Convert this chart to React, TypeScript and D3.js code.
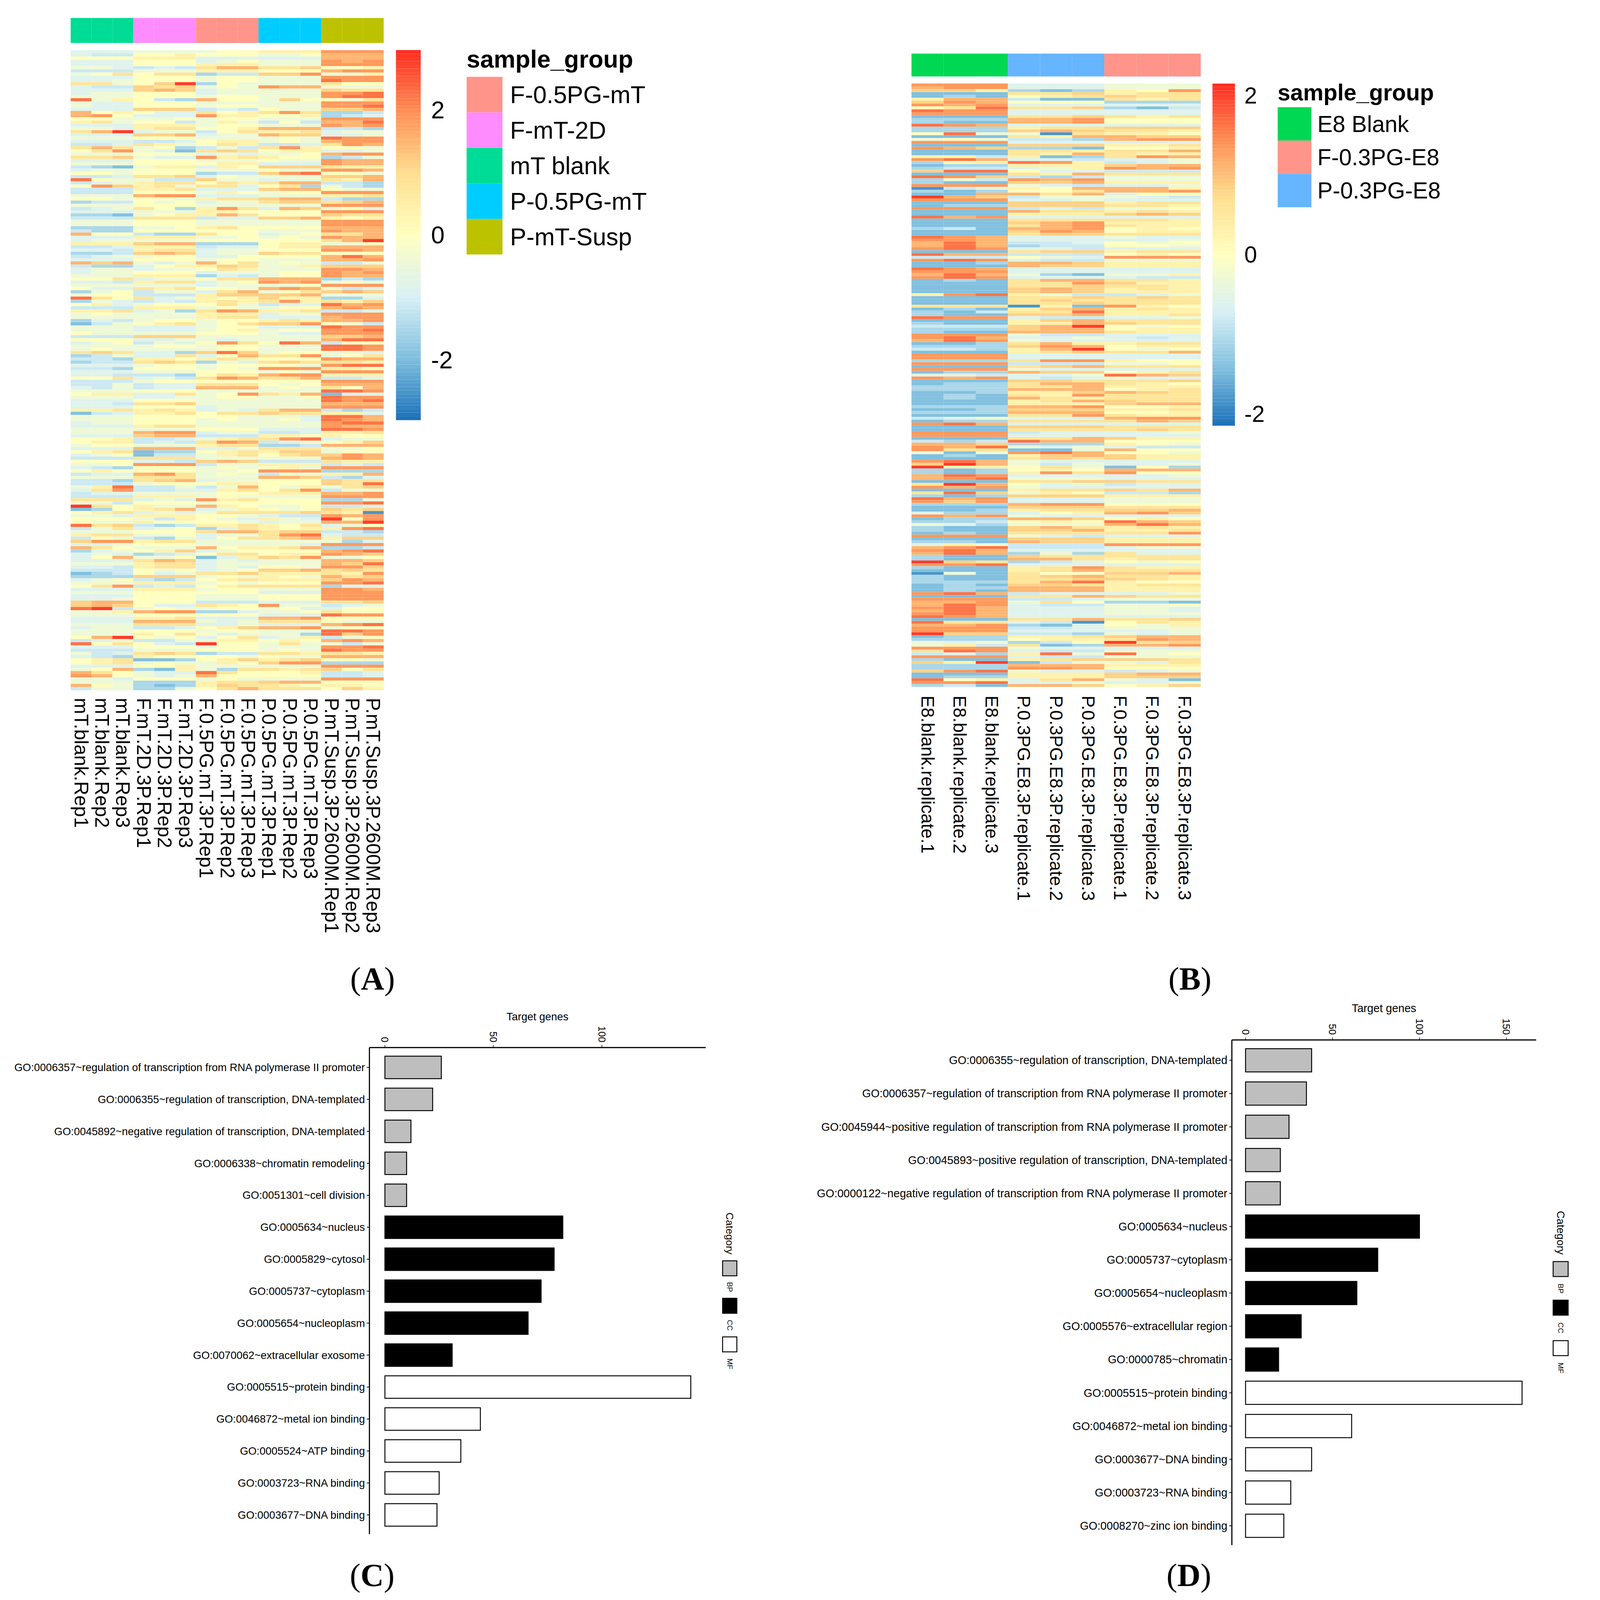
import React from "react";
import * as d3 from "d3";

// ---------- heatmap values (one letter per cell, see levelValues) ----------
const levelValues: Record<string, number> = {
  a: -2.5, b: -1.95, c: -1.5, d: -1.12, e: -0.82, f: -0.42, g: 0.0,
  h: 0.4, i: 0.8, j: 1.15, k: 1.5, l: 1.85, m: 2.25, n: 2.8,
};

const rowsA = [
"eee fff fgg hhh lll","edd ggh ggg ffg kkk","ggg hhh eee eee kkk","eee ggg efg fff lkl","eee ggg hhh fff lll",
"ffe ded ikk iij ggh","ddd fff hhh ggg kll","fgi gii cdd jjl ffh","eee ggg fgg fff lll","eef ggg fgg fff mll",
"iif gjn cgf fff igg","edd jij fgf lkk fff","eee jkj eff fff jii","eff ggg eff fff llm","fff ggg fgg fff lmm",
"mfh gdc kgg fjg gfi","fee ggg fff fff lll","fee ggg fgg fff llm","eee jjj ded gff jjk","kgh gee igh ili ccd",
"klg eee lhh ggh cde","ggf ffg fgg fff lll","hif ggd fhf dgd kkm","eee hhh fgg fff lkl","ffe hii ggh kkk ddc",
"ikn eff dgi hhi eff","eee jjk eff kjj eef","fff ggg fff fgf mll","eee dde ghh fgf kll","dde ihf gih dde ilk",
"iki fgc dfd ilh ggf","gil feb iji ghh eef","fff ggg efe ffg kll","iij fee lhi hgg cdf","eee ggg fff gff lkk",
"fff ggg ghh eee lkk","dcb fhh ehg jjj ihh","eff ggg fff gff llk","ggf ggg cdd jlm ggf","dde iij egf fff jjk",
"mgf fdd jff eff ihk","def hii gih ikk ddc","glj hif iie gic fdc","ddd hhi eee jkk gff","ddd ggg fhg fgg lll",
"fff kll eee fff hhi","ggf ggf hii jkk dcc","cdd gfg eff ijj ijk","fff ggg fff fff lll","def igc hli ekj fge",
"eee fff hhg ggg lll","ccb fgh hki ggg jii","ddd iii dee jjk hgh","fff ggg fff fff lll","fff ggg fff fff lll",
"ccc ffg hig ggg kkk","dcc ggg ggg fff lkk","kgg dcc igg efg iik","eee hhh ffg fgf lkk","eff fff ggg ggg ikn",
"hhh jkk ccc ghh ffg","dde hhh dee ghh kkk","eed hii eff ggg llk","ccd jkj eff jii ggg","def fgg eeg ggg kmk",
"eee ggg fgg fff kkl","kjk fef kgi fgf ddf","dcc egh hji ffh jjj","eff eff gih fff llk","eff ggg eff fgg lkl",
"fff hhh ced fgg lkk","ggi eff gii kkk cdc","eed hii efg lkl fgf","fff fff eff ffg lll","gee ihi ggf klk fde",
"cfg dff eik fgi jkj","fgg ddd hjj jjk fff","mig ief hgh jhh cce","cfe ded hih ilh ihj","ghe fgg gif dee mkl",
"ddd hhh fgf fgg klk","hhi efc ilk hhi dde","fgf fff hhh eff lll","fff fff hii eee kll","ced fgg fgg hih kkl",
"bdf ghi fgi jjl gfd","fff eee fgg eee mll","fff eee fgh fgg llm","gff fff ggg fee lll","ddd jjj fff fff jjk",
"ggg eef fef fff kmm","efg dfe gli gmk dgg","fff fgg fgg fff mml","fgf fff fgg fff mml","iji eec jmj fgg ffe",
"cdf eei egk iil fgi","ddc hhg hih ggg lkk","cdd iji cfe iji iih","eee fgg fgg ggf lmm","ddc ggg fgf lll hhg",
"eee fff ggg fgf lll","eed ddc gih kll hhh","ggi efd ilk iik dde","ddd fgg ggg ggg lll","ddf dee iii gfg kkk",
"edf dee kkk fgf igk","fff ggg fff fff mml","ghh eei fgl ihk bee","fff eef fgg ffg mll","eee ggg fff fff mlm",
"eed iij fff fff kkk","eee ggg eff fff lll","hhi hih efe ikk dcd","bde hhi gii jii hhe","fff ggg ggf ffe mmk",
"fff ggg fgf fge mlk","eff ggg fff fff lmm","eee hii fff fff lkk","fff fff ggg eee mml","fff kll eff dde hhi",
"eee jkk ddd hhg hgg","ggh dde fhi ilm eff","ghh ded ilk def ghj","fgg fff hii ccd kkk","eee kkk eef iii ffg",
"ghi bcc ghi hjj fgg","efg bdd fhi gij jlk","ddd iii fff fff klk","ggg eed jkj ddd ihh","ffg lll dff hhh ded",
"edc ggg fgf ghf lll","ghg ggg ffg lll ccc","dee kli fgf dff hhk","fff iii fff kkj dce","ddc ijk eff ggg jii",
"ddd fgg ghh ggg jim","fhm ddf dfk gfh fij","eil dde ehi gil dff","dee fff fgg hhh kkl","ddd hhh fgf fff lll",
"iii efe lhi ggg ccf","ffd ggg fgg ggg llm","nig hff khg ffg dde","bcg hik efh gfg jij","ghi efe fii iij iha",
"ffe hhh ggf edd lkl","ggg fdh gfe hfe ngl","gff hgg ggf eff kkn","mij dcd hhi hgi efg","dfi efg cei hgh hlm",
"fff ggg ikk ijj ddc","hii ffg eff ilm edd","dgf dcf egi ijk hjj","jll hii fff fff fce","eef ggg fff ffe lll",
"kig fff kgh hik ccd","cef ghj efg ggg klm","efe cde gii ghh lkj","egk ffg beh jil ffg","eee ikj efe fff kkj",
"fff hii eff fff kjm","eed hii efe ggf llj","ddd gfg efg jjk iji","bcd gef iij hhh ihl","ccc jjj fgf hgf kij",
"efg dcd ghi hhh jlk","fff hhh fgf ggg llm","gil ded ghi iii cee","eee hhh fgg fff llk","fff ggg ggg eee lll",
"eee ggg fff ggg lll","eef ggg fff ggg lll","jkk ggg ddd eee iij","jkj gee ihg lff def","mnd fgf fgg fge egg",
"ffh kll cce ffg igg","fff ggg ggg eee mll","eee hhi eee kkl ggg","eee kkk fef iii gff","fff iii eef eee klm",
"eff dde ghj kkl fgg","fff ggg fgg fff mml","fff hgi gef ffc mjl","gkn gfg egi efh dfg","def ddf fhh ghg klk",
"mgi ged ngg fif fdf","eee ggg fgg fff llm","ddd fff ggg fgf mll","fde iji cdd iih iih","edc hgg ggf gff kkk",
"ghi bbc ghj hij ggf","ghi fgf fhg jll ccc","eee ggh fff fff lll","fgk cbh fci ihi jgi","kig fee mig ggh dde",
"lkg fef kgg ggg dde","ffe ggg fgf fff lll","fff ccc hii jkk ggg","kgf cbc hji ihg hhg","dff ccf gik iii gjh",
];

const rowsB = [
"lll eee fff","kll eee fff","jjh cbc hgl","bbb iij hii","bcb ghi jii","hkk dbb ihi","jlk ggg ccc","lkl eee eee","gim iij cbd","mll eee eee",
"lll eee eee","bbb iij ihi","ccc kkl ggg","cbb kkl ggg","mlk eee eee","ccc hii jjj","ccc jkj iih","gmf fai hhg","bbb ihk kjj","fgf ddc kll",
"lll eee eee","bbb jjj hhi","lkj ccb ggh","bbb iih iik","bbb ihk ihh","hhd hbc ilk","lmk eed eef","cgh mlh def","bcc hhh jkk","cdd efh lkl",
"jmm gee ddd","bbb ihk iii","mlj dcd fff","cfd lkl fff","cbb jjk hhh","lll fed eef","ade hgk kkh","cbc ggi kkl","bbk kik egg","nkj dff fed",
"lll eef eee","bbb jjj hii","bcc jjj iih","lll ded ffg","bbb kii hih","bbb hhh jkj","mkl eee eee","bbb iii iih","bbb jkl hhh","bbb ikl ihh",
"cdb kkl ghg","bbb jlk ghh","bbb ijj iii","mlk eee fee","llk eee eef","kmk dde gfg","kmk cdd ggf","lml eed eee","bbb ijj hii","mkk ddd ghg",
"ddd gfe lll","lml edd fff","bbc kkj hhh","bbb kjj hhh","mlk eee eee","lll eee eee","kmk fcb ffh","lml eee edd","bcb ikk iih","bbb iil jhh",
"bbb iij iih","bbb jkj hih","bbb jkj hhh","hlm hfd def","bbb iij iji","bbb iji iii","bbb iij iii","iii ahb lhg","bcb hjk hih","cbd iim hhh",
"cbb jjk hhi","mll edd eef","bbb hjk iii","cbb hhk jii","ddd jkn gfg","ccc jkk ghh","cbb kkk ihh","lll fdd eee","lmk eef ede","kml fee eee",
"bbc ikh hii","ccc jlk ghh","ddc hkn gfg","bbb hij iik","lll eee eee","lll eee eee","ccc ill hgg","lll ddd ffg","bbb ijk iii","lll fee eee",
"bcc kjj ghi","eed eef mkj","lkl ede fee","bbb jji iij","bcc ikk ihg","ccc iik hhh","ccc kkk ghi","bbc hhj kji","bcb ihl iii","bcb kih iii",
"bbb hik jii","bbb hhh jkk","ccc kkl ggh","bbc jjj hhi","ccc kkk ggh","bbb iil ihh","def eee kll","bcc iii ikj","lmk eee eee","bbb jjj iii",
"bbb iii iji","lll dee eef","lll eee eee","bbb iik jhh","dcd mkk ggg","kkj ccc hgf","lkm fef edd","lii bbf kgg","fbf lmk ggf","bcb hjk jhh",
"bbb iji jhh","lmk fee eee","jnk fdf eef","nhh gif bgc","cbc ghg kkk","cbc hli lgg","kml eee eef","klm fff eee","bbb iij jii","ink gef dee",
"lkl fee eee","bbb hii jik","imj fhg ddc","cbc jjj hhh","mkl eee fff","ljl eee fff","ccc kll ggg","bbb jjj iii","bbc hii jjk","ecc egh klj",
"lkl fee eee","bcc kkj ghg","ccd ghg mkj","fec fff kmk","cbb jki hih","cbb jjk hhi","bcb iii iil","lll fed eee","bbb jjj hhh","ccb kjj hhh",
"ehf ddd lll","klm ddd eff","lmk eee eee","kmk cfc iee","cbb jii iii","cbb kki hii","nji cde gfg","llm eee eee","cbb hil ihh","bbb hik iii",
"afb igg jjk","cbb ijk iih","cbb iij jih","ccc ikm hgg","bcb jji hii","bcc kkk hhh","bcb kkk hhh","lmk dee eef","bbb iik jii","lll dde fff",
"kkl fig ccb","kml edd ffg","lmk eee ffe","kmk eee ffe","lmk eee fff","mlk eee eee","bbb iik iij","mii eda gih","kkl cbe gfh","lll dde fff",
"lll eee eef","njj ddc fef","bcc hhi jkk","ccc ghh ilk","fef cdg nij","fhd ibc kkl","lll fee eee","iml edd fff","dec hmf mfg","lll edd fff",
"cbb hij jji","jhn bdf fei","ccc kkk hhh","ccc llk ggg","jlm fee def","bbb hhh jkk","bcc hhh jjj","mgh eik feb","llm eef eef","cdb kkj ghj",
];

const samplesA = [
  "mT.blank.Rep1","mT.blank.Rep2","mT.blank.Rep3",
  "F.mT.2D.3P.Rep1","F.mT.2D.3P.Rep2","F.mT.2D.3P.Rep3",
  "F.0.5PG.mT.3P.Rep1","F.0.5PG.mT.3P.Rep2","F.0.5PG.mT.3P.Rep3",
  "P.0.5PG.mT.3P.Rep1","P.0.5PG.mT.3P.Rep2","P.0.5PG.mT.3P.Rep3",
  "P.mT.Susp.3P.2600M.Rep1","P.mT.Susp.3P.2600M.Rep2","P.mT.Susp.3P.2600M.Rep3",
];
const samplesB = [
  "E8.blank.replicate.1","E8.blank.replicate.2","E8.blank.replicate.3",
  "P.0.3PG.E8.3P.replicate.1","P.0.3PG.E8.3P.replicate.2","P.0.3PG.E8.3P.replicate.3",
  "F.0.3PG.E8.3P.replicate.1","F.0.3PG.E8.3P.replicate.2","F.0.3PG.E8.3P.replicate.3",
];
const annotA = ["mT blank","F-mT-2D","F-0.5PG-mT","P-0.5PG-mT","P-mT-Susp"];
const annotB = ["E8 Blank","P-0.3PG-E8","F-0.3PG-E8"];
const legendA = ["F-0.5PG-mT","F-mT-2D","mT blank","P-0.5PG-mT","P-mT-Susp"];
const legendB = ["E8 Blank","F-0.3PG-E8","P-0.3PG-E8"];
const groupColors: Record<string, string> = {
  "F-0.5PG-mT": "#FF958A", "F-mT-2D": "#FF8CFF", "mT blank": "#00DC95",
  "P-0.5PG-mT": "#00CDFF", "P-mT-Susp": "#BDC200",
  "E8 Blank": "#00D854", "F-0.3PG-E8": "#FF958A", "P-0.3PG-E8": "#66B5FF",
};
const rampColors = ["#1a70b8", "#80bfde", "#d8f0f5", "#ffffbf", "#fedf90", "#ff8f55", "#ff2c20"];

// ---------- bar charts ----------
const termsC = [
  "GO:0006357~regulation of transcription from RNA polymerase II promoter",
  "GO:0006355~regulation of transcription, DNA-templated",
  "GO:0045892~negative regulation of transcription, DNA-templated",
  "GO:0006338~chromatin remodeling","GO:0051301~cell division",
  "GO:0005634~nucleus","GO:0005829~cytosol","GO:0005737~cytoplasm","GO:0005654~nucleoplasm","GO:0070062~extracellular exosome",
  "GO:0005515~protein binding","GO:0046872~metal ion binding","GO:0005524~ATP binding","GO:0003723~RNA binding","GO:0003677~DNA binding",
];
const countsC = [26,22,12,10,10,82,78,72,66,31,141,44,35,25,24];
const termsD = [
  "GO:0006355~regulation of transcription, DNA-templated",
  "GO:0006357~regulation of transcription from RNA polymerase II promoter",
  "GO:0045944~positive regulation of transcription from RNA polymerase II promoter",
  "GO:0045893~positive regulation of transcription, DNA-templated",
  "GO:0000122~negative regulation of transcription from RNA polymerase II promoter",
  "GO:0005634~nucleus","GO:0005737~cytoplasm","GO:0005654~nucleoplasm","GO:0005576~extracellular region","GO:0000785~chromatin",
  "GO:0005515~protein binding","GO:0046872~metal ion binding","GO:0003677~DNA binding","GO:0003723~RNA binding","GO:0008270~zinc ion binding",
];
const countsD = [38,35,25,20,20,100,76,64,32,19,159,61,38,26,22];
const catOf = (i: number) => (i < 5 ? "BP" : i < 10 ? "CC" : "MF");
const categories = ["BP","CC","MF"];
const catFill: Record<string, string> = { BP: "#bebebe", CC: "#000000", MF: "#ffffff" };

const SANS = "'Liberation Sans', Arial, sans-serif";
const SERIF = "'Liberation Serif', 'Times New Roman', serif";

function Heatmap(p: {
  rows: string[]; samples: string[]; annot: string[]; legend: string[]; x0: number; x1: number;
  annY0: number; annY1: number; y0: number; y1: number; labelY: number; labelFont: number;
  max: number; barX0: number; barX1: number; barY0: number; barY1: number; tickX: number;
  ticks: number[]; legendFont: number; titleX: number; titleY: number; swX0: number; swX1: number;
  swY0: number; swY1: number; swLabelX: number;
}) {
  const matrix = p.rows.map((r) => r.replace(/ /g, "").split("").map((c) => (levelValues[c] * p.max) / 2.96));
  const x = d3.scaleBand<number>().domain(d3.range(p.samples.length)).range([p.x0, p.x1]);
  const y = d3.scaleBand<number>().domain(d3.range(matrix.length)).range([p.y0, p.y1]);
  const color = d3.scaleLinear<string>()
    .domain(rampColors.map((_, i) => -p.max + (i * p.max) / 3))
    .range(rampColors).interpolate(d3.interpolateRgb).clamp(true);
  const barY = d3.scaleLinear().domain([-p.max, p.max]).range([p.barY1, p.barY0]);
  const steps = d3.range(100).map((i) => -p.max + (i * 2 * p.max) / 100);
  const groupSize = p.samples.length / p.annot.length;
  const swY = d3.scaleBand<string>().domain(p.legend).range([p.swY0, p.swY1]);
  return (
    <g>
      {p.samples.map((s, i) => (
        <rect key={s} x={x(i)} y={p.annY0} width={x.bandwidth()} height={p.annY1 - p.annY0}
          fill={groupColors[p.annot[Math.floor(i / groupSize)]]} />
      ))}
      {matrix.map((row, r) =>
        row.map((v, c) => (
          <rect key={`${r}-${c}`} x={x(c)} y={y(r)} width={x.bandwidth()} height={y.bandwidth()} fill={color(v)} />
        ))
      )}
      {p.samples.map((s, i) => (
        <text key={s} transform={`translate(${x(i)! + x.bandwidth() / 2},${p.labelY}) rotate(90)`}
          fontFamily={SANS} fontSize={p.labelFont} dominantBaseline="central">{s}</text>
      ))}
      {steps.map((v) => (
        <rect key={v} x={p.barX0} width={p.barX1 - p.barX0} y={barY(v + (2 * p.max) / 100)}
          height={barY(v) - barY(v + (2 * p.max) / 100)} fill={color(v + p.max / 100)} />
      ))}
      {p.ticks.map((t) => (
        <text key={t} x={p.tickX} y={barY(t)} fontFamily={SANS} fontSize={p.legendFont} dominantBaseline="central">{t}</text>
      ))}
      <text x={p.titleX} y={p.titleY} fontFamily={SANS} fontWeight="bold" fontSize={p.legendFont}>sample_group</text>
      {p.legend.map((l) => (
        <g key={l}>
          <rect x={p.swX0} y={swY(l)} width={p.swX1 - p.swX0} height={swY.bandwidth()} fill={groupColors[l]} />
          <text x={p.swLabelX} y={swY(l)! + swY.bandwidth() / 2} fontFamily={SANS} fontSize={p.legendFont}
            dominantBaseline="central">{l}</text>
        </g>
      ))}
    </g>
  );
}

function Bars(p: {
  terms: string[]; counts: number[]; axisX: number; axisY: number; axisRight: number; axisBottom: number;
  x0: number; x50: number; ticks: number[]; firstY: number; lastY: number; barH: number; font: number;
  titleX: number; titleY: number; swX0: number; swX1: number; swY: number[]; swH: number; catY: number; labelYs: number[];
}) {
  const x = d3.scaleLinear().domain([0, 50]).range([p.x0, p.x50]);
  const y = d3.scalePoint<string>().domain(p.terms).range([p.firstY, p.lastY]);
  const cx = (p.swX0 + p.swX1) / 2;
  const f = p.font;
  return (
    <g fontFamily={SANS} fill="#000">
      <text x={p.titleX} y={p.titleY} fontSize={f} textAnchor="middle" dominantBaseline="central">Target genes</text>
      {p.ticks.map((t) => (
        <g key={t}>
          <line x1={x(t)} x2={x(t)} y1={p.axisY - 7} y2={p.axisY} stroke="#000" strokeWidth={1.5} />
          <text transform={`translate(${x(t)},${p.axisY - 14}) rotate(90)`} fontSize={26} textAnchor="end" dominantBaseline="central">{t}</text>
        </g>
      ))}
      {p.terms.map((term, i) => {
        const cat = catOf(i);
        return (
          <g key={term}>
            <rect x={x(0)} y={y(term)! - p.barH / 2} width={x(p.counts[i]) - x(0)} height={p.barH}
              fill={catFill[cat]} stroke="#000" strokeWidth={2.5} />
            <line x1={p.axisX - 7} x2={p.axisX} y1={y(term)} y2={y(term)} stroke="#000" strokeWidth={2} />
            <text x={p.axisX - 12} y={y(term)} fontSize={f} textAnchor="end" dominantBaseline="central">{term}</text>
          </g>
        );
      })}
      <line x1={p.axisX} x2={p.axisRight} y1={p.axisY} y2={p.axisY} stroke="#000" strokeWidth={3} />
      <line x1={p.axisX} x2={p.axisX} y1={p.axisY} y2={p.axisBottom} stroke="#000" strokeWidth={3} />
      <text transform={`translate(${cx},${p.catY}) rotate(90)`} fontSize={f - 1} textAnchor="middle" dominantBaseline="central">Category</text>
      {categories.map((c, i) => (
        <g key={c}>
          <rect x={p.swX0} y={p.swY[i]} width={p.swX1 - p.swX0} height={p.swH} fill={catFill[c]} stroke="#000" strokeWidth={2.5} />
          <text transform={`translate(${cx},${p.labelYs[i]}) rotate(90)`} fontSize={20} textAnchor="middle" dominantBaseline="central">{c}</text>
        </g>
      ))}
    </g>
  );
}

function PanelLabel({ x, y, letter }: { x: number; y: number; letter: string }) {
  return (
    <text x={x} y={y} fontFamily={SERIF} fontSize={86} textAnchor="middle" fill="#000">
      (<tspan fontWeight="bold">{letter}</tspan>)
    </text>
  );
}

const FIG_W = 4222;
const FIG_H = 4269;

export default function App() {
  // The real browser window can be smaller than the figure: fit the whole figure into it.
  const k = Math.min(1, window.innerWidth / FIG_W, window.innerHeight / FIG_H);
  return (
    <svg width={FIG_W * k} height={FIG_H * k} viewBox={`0 0 ${FIG_W} ${FIG_H}`} xmlns="http://www.w3.org/2000/svg"
      style={{ position: "absolute", left: 0, top: 0, background: "#fff" }}>
      <Heatmap rows={rowsA} samples={samplesA} annot={annotA} legend={legendA}
        x0={188.5} x1={1023.7} annY0={48} annY1={114.6} y0={133.8} y1={1841.6} labelY={1862} labelFont={52}
        max={2.96} barX0={1056.5} barX1={1122.6} barY0={133.5} barY1={1121} tickX={1150} ticks={[2, 0, -2]}
        legendFont={65} titleX={1245} titleY={180} swX0={1245} swX1={1340.7} swY0={205} swY1={679} swLabelX={1361} />
      <Heatmap rows={rowsB} samples={samplesB} annot={annotB} legend={legendB}
        x0={2432} x1={3203.7} annY0={143} annY1={204} y0={222.7} y1={1832.8} labelY={1856} labelFont={48}
        max={2.15} barX0={3235} barX1={3295} barY0={223} barY1={1135.8} tickX={3320} ticks={[2, 0, -2]}
        legendFont={61} titleX={3409} titleY={268} swX0={3409} swX1={3499} swY0={286} swY1={553} swLabelX={3515} />

      <Bars terms={termsC} counts={countsC} axisX={985.7} axisY={2795} axisRight={1883} axisBottom={4093}
        x0={1027} x50={1316.4} ticks={[0, 50, 100]} firstY={2848} lastY={4042} barH={60} font={28.6}
        titleX={1434} titleY={2712} swX0={1928} swX1={1966} swY={[3364, 3464, 3567]} swH={40} catY={3291} labelYs={[3434, 3536, 3639]} />
      <Bars terms={termsD} counts={countsD} axisX={3286.8} axisY={2774.7} axisRight={4098.6} axisBottom={4122.6}
        x0={3323.3} x50={3555.3} ticks={[0, 50, 100, 150]} firstY={2829} lastY={4071} barH={62} font={29.8}
        titleX={3692.7} titleY={2690} swX0={4144} swX1={4184} swY={[3366, 3469, 3577]} swH={40} catY={3289} labelYs={[3438, 3543, 3650]} />

      <PanelLabel x={994} y={2640} letter="A" />
      <PanelLabel x={3175} y={2640} letter="B" />
      <PanelLabel x={993} y={4231} letter="C" />
      <PanelLabel x={3172} y={4231} letter="D" />
    </svg>
  );
}
